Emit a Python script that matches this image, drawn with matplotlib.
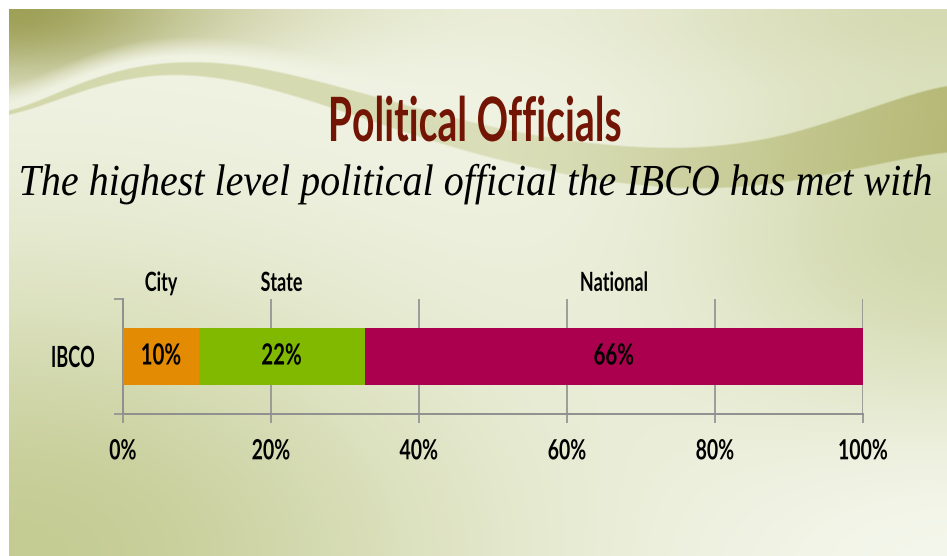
import numpy as np
import matplotlib
matplotlib.use("Agg")
import matplotlib.pyplot as plt
from matplotlib import patheffects
from matplotlib.transforms import Affine2D, blended_transform_factory

# ---- chart content -------------------------------------------------------
title = "Political Officials"
subtitle = "The highest level political official the IBCO has met with"
row_label = "IBCO"
categories = ["City", "State", "National"]
values = [10, 22, 66]
tick_values = [0, 20, 40, 60, 80, 100]
tick_labels = ["0%", "20%", "40%", "60%", "80%", "100%"]
colors = ["#e38b02", "#80b900", "#aa004d"]


class Stretch(patheffects.AbstractPathEffect):
    """Rescale glyph outlines about an anchor edge (or centre) and the baseline."""

    def __init__(self, sx, sy=1.0, anchor="center"):
        super().__init__()
        self.sx = sx
        self.sy = sy
        self.anchor = anchor

    def draw_path(self, renderer, gc, tpath, affine, rgbFace=None):
        ext = tpath.get_extents()
        ax_ = {"left": ext.x0, "right": ext.x1}.get(self.anchor, 0.5 * (ext.x0 + ext.x1))
        scale = Affine2D().translate(-ax_, 0).scale(self.sx, self.sy).translate(ax_, 0)
        renderer.draw_path(gc, tpath, scale + affine, rgbFace)


SANS = ["Lato", "DejaVu Sans"]
SERIF = ["Liberation Serif", "DejaVu Serif"]

W, H = 947, 556
fig = plt.figure(figsize=(W / 100, H / 100), dpi=100, facecolor="white")

# ---- slide background ----------------------------------------------------
bg = fig.add_axes([0, 0, 1, 1], zorder=-10)
bg.set_xlim(0, W)
bg.set_ylim(H, 0)
bg.axis("off")

x0, y0 = 9, 9
xs = np.arange(x0, W) + 0.5
ys = np.arange(y0, H) + 0.5
X, Y = np.meshgrid(xs, ys)


def blend(img, color, w):
    w = np.clip(w, 0, 1)[..., None]
    return img * (1 - w) + np.array(color) * w


def smooth_curve(px, py, sigma=30):
    raw = np.interp(xs, px, py)
    k = np.arange(-3 * sigma, 3 * sigma + 1)
    kern = np.exp(-0.5 * (k / sigma) ** 2)
    kern /= kern.sum()
    padded = np.pad(raw, 3 * sigma, mode="edge")
    return np.convolve(padded, kern, mode="valid")


img = np.ones(X.shape + (3,)) * np.array([0.95, 0.96, 0.905])
# greener wash in the lower left and along the right edge
img = blend(img, (0.76, 0.79, 0.56), 0.95 * np.exp(-((X - x0) / 470) ** 2 - ((H - Y) / 290) ** 2))
img = blend(img, (0.78, 0.81, 0.60), 0.75 * np.exp(-((W - X) / 260) ** 2 - ((Y - 230) / 200) ** 2))
img = blend(img, (0.80, 0.82, 0.63), 0.65 * np.exp(-((W - X) / 330) ** 2 - ((Y - y0) / 75) ** 2))
# light sheen near the lower right corner
img = blend(img, (0.96, 0.97, 0.93), 0.8 * np.exp(-((W - X) / 220) ** 2 - ((H - Y) / 120) ** 2))

# sweeping band across the upper part of the slide
cx_pts = [0, 40, 100, 160, 230, 300, 380, 460, 540, 620, 700, 780, 860, 947]
top_pts = [122, 100, 74, 61, 62, 76, 98, 120, 137, 147, 149, 138, 112, 82]
bot_pts = [124, 106, 84, 72, 78, 97, 124, 150, 170, 184, 190, 184, 168, 150]
band_top = smooth_curve(cx_pts, top_pts)[None, :]
band_bot = smooth_curve(cx_pts, bot_pts)[None, :]
inside = np.clip(np.minimum(Y - band_top, band_bot - Y) / 2 + 0.5, 0, 1)
band_col = np.stack([
    np.interp(xs, [0, 300, 550, 947], [0.80, 0.80, 0.79, 0.69]),
    np.interp(xs, [0, 300, 550, 947], [0.82, 0.82, 0.81, 0.70]),
    np.interp(xs, [0, 300, 550, 947], [0.62, 0.62, 0.60, 0.42]),
], axis=-1)[None, :, :]
band_alpha = np.interp(xs, [0, 350, 500, 947], [0.8, 0.7, 0.55, 0.85])[None, :]
w_band = (inside * band_alpha)[..., None]
img = img * (1 - w_band) + band_col * w_band

# olive corner above the band, fading to the right
above = np.clip((band_top - 6 - Y) / 20, 0, 1)
img = blend(img, (0.86, 0.87, 0.73), above * 0.7 * np.exp(-((X - 200) / 260) ** 2 - ((Y - y0) / 45) ** 2))
img = blend(img, (0.62, 0.63, 0.34), above * np.exp(-((X - x0) / 190) ** 2 - ((Y - y0) / 75) ** 2))

bg.imshow(np.clip(img, 0, 1), extent=(x0, W, H, y0), interpolation="bilinear",
          aspect="auto", zorder=0)

# ---- titles ---------------------------------------------------------------
fig.text(474 / W, 1 - 141 / H, title, ha="center", va="baseline",
         family=SANS, weight="bold", fontsize=44, color="#731504",
         path_effects=[Stretch(0.64)])
fig.text(475 / W, 1 - 195 / H, subtitle, ha="center", va="baseline",
         family=SERIF, style="italic", fontsize=29, color="#000000",
         path_effects=[Stretch(0.995, 1.10)])

# ---- stacked 100% bar -------------------------------------------------------
ax = fig.add_axes([123 / W, (H - 414) / H, (863 - 123) / W, 115 / H])
ax.patch.set_alpha(0)

shares = np.array(values, dtype=float) / np.sum(values) * 100
lefts = np.concatenate([[0], np.cumsum(shares)[:-1]])
bars = ax.barh([0] * len(values), shares, left=lefts, height=0.5,
               color=colors, zorder=3)

ax.set_xlim(0, 100)
ax.set_ylim(-0.5, 0.5)

grey = "#8f8f8f"
ax.grid(axis="x", color=grey, lw=1.2, zorder=0)
ax.set_axisbelow(True)
for side in ("top", "right"):
    ax.spines[side].set_visible(False)
for side in ("left", "bottom"):
    ax.spines[side].set_color(grey)
    ax.spines[side].set_linewidth(1.4)

ax.set_xticks(tick_values)
ax.set_xticklabels(tick_labels, family=SANS, weight="bold", fontsize=20)
ax.tick_params(axis="x", length=6.5, width=1.2, color=grey, pad=11)

ax.set_yticks([0])
ax.set_yticklabels([row_label], family=SANS, weight="bold", fontsize=21)
ax.set_yticks([-0.5, 0.5], minor=True)
ax.tick_params(axis="y", which="major", length=0, pad=20)
ax.tick_params(axis="y", which="minor", length=6.5, width=1.2, color=grey)

for lbl in ax.get_xticklabels():
    lbl.set_path_effects([Stretch(0.70)])
for lbl in ax.get_yticklabels():
    lbl.set_path_effects([Stretch(0.62, anchor="right")])

value_texts = ax.bar_label(bars, labels=[f"{v}%" for v in values],
                           label_type="center", family=SANS, weight="bold",
                           fontsize=21, color="black")
for t in value_texts:
    t.set_path_effects([Stretch(0.70)])

above_axes = blended_transform_factory(ax.transData, ax.transAxes)
for left, share, name in zip(lefts, shares, categories):
    ax.text(left + share / 2, 1.14, name, transform=above_axes,
            ha="center", va="center", family=SANS, weight="bold", fontsize=19,
            color="black", path_effects=[Stretch(0.68)])

fig.savefig("out.png", dpi=100, facecolor="white")
